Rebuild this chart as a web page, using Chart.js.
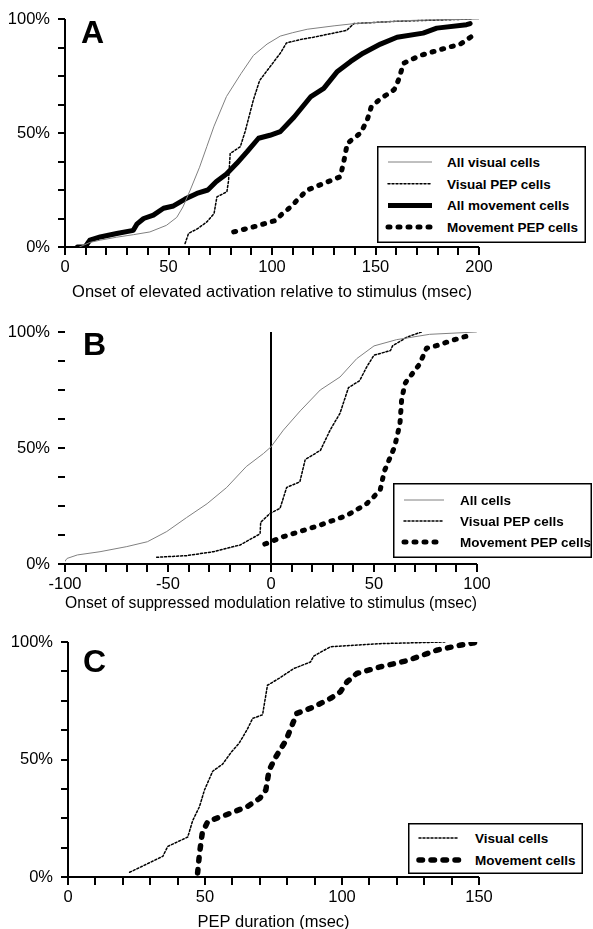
<!DOCTYPE html>
<html><head><meta charset="utf-8">
<script src="https://cdn.jsdelivr.net/npm/chart.js@4.4.1/dist/chart.umd.min.js"></script>
<style>
html,body{margin:0;padding:0;overflow:hidden;background:#fff;width:593px;height:929px;}
canvas{position:absolute;left:0;}
.letter{position:absolute;font:bold 32px 'Liberation Sans',Arial,sans-serif;line-height:32px;color:#000;}
svg.leg{position:absolute;overflow:visible;}
</style></head><body>
<canvas id="cA" width="593" height="305" style="top:0px"></canvas>
<canvas id="cB" width="593" height="310" style="top:305px"></canvas>
<canvas id="cC" width="593" height="320" style="top:615px"></canvas>
<div class="letter" style="left:81px;top:16px">A</div>
<div class="letter" style="left:83px;top:328px">B</div>
<div class="letter" style="left:83px;top:645px">C</div>
<svg id="lA" class="leg"></svg>
<svg id="lB" class="leg"></svg>
<svg id="lC" class="leg"></svg>
<script>
// ---------- Panel A data ----------
const aTitle = 'Onset of elevated activation relative to stimulus (msec)';
const aLabels = ['All visual cells', 'Visual PEP cells', 'All movement cells', 'Movement PEP cells'];
const aVisX = [7, 12, 17, 25, 33, 41, 49, 54, 57, 60.5, 65, 68.5, 72, 78, 85, 91, 97.6, 104, 110, 117, 130, 140, 168, 200];
const aVisY = [0, 2, 3, 4.3, 5.4, 6.6, 9.5, 13, 17.6, 25, 35, 44, 53, 66, 76, 84, 89, 92.5, 94, 95.5, 97, 98, 99.4, 100];
const aVisPepX = [58, 59.7, 64, 68.5, 72, 73.4, 78.2, 79, 79.8, 84.7, 87, 91, 94, 99, 104, 107, 113.7, 120, 136, 139.6, 160, 197];
const aVisPepY = [1.5, 6, 8, 11, 14.7, 22, 24.2, 29, 41, 44, 50.6, 64.5, 73, 79, 85, 89.5, 91, 92, 95, 98, 99, 100];
const aMovX = [6, 9.7, 12, 17, 25, 33, 34.7, 38, 42.7, 47.6, 52.4, 58, 63.7, 69, 73, 78, 83, 88, 93.5, 99, 104, 110.7, 118.8, 125, 131.6, 138, 144, 152.4, 160.4, 173, 179.6, 194, 195.7];
const aMovY = [0, 0, 3, 4.4, 5.9, 7.3, 10, 12.5, 14, 17, 18, 21, 23.5, 25, 28.6, 32, 36.7, 41.8, 47.7, 49, 50.6, 57, 66, 69.6, 77, 81.4, 85, 89, 92, 93.8, 96, 97.5, 98];
const aMovPepX = [81.5, 91, 102, 104.3, 109, 113.7, 117, 128, 133, 134.8, 136.4, 142.8, 146, 148, 152.4, 159, 161, 163.6, 171.6, 181, 191, 197];
const aMovPepY = [6.6, 8.8, 11.7, 14, 17.6, 22, 25, 29, 30.8, 38, 45.5, 50, 55.7, 61.6, 65, 69, 73, 80.6, 84, 86.5, 89, 92.7];

// ---------- Panel B data ----------
const bTitle = 'Onset of suppressed modulation relative to stimulus (msec)';
const bLabels = ['All cells', 'Visual PEP cells', 'Movement PEP cells'];
const bAllX = [-100, -99, -94, -83, -70, -60, -50.6, -41, -31, -21.5, -12, -3.7, 0, 6, 14.2, 23.9, 33.5, 41.6, 50, 61, 77, 99.7];
const bAllY = [1.2, 2.4, 3.9, 5.3, 7.5, 9.6, 14, 20, 26, 33, 42, 47.6, 50.5, 57.7, 66, 75, 80.6, 88.5, 94, 96.7, 99, 100];
const bVisPepX = [-55.5, -41, -28, -15, -5.3, -5, -0.5, 4.4, 7.6, 14, 16.6, 24, 28.7, 33.5, 37.6, 43, 46.5, 50, 58, 59, 66, 73];
const bVisPepY = [2.9, 3.6, 5.3, 8.2, 13, 18, 21.8, 24, 33, 35.4, 45, 49, 57.7, 65, 76, 79, 85, 90, 92, 94, 97.8, 100];
const bMovPepX = [-3, 6, 14, 24, 37, 46.5, 53, 55, 60, 62.6, 63.4, 65, 72, 75.5, 80, 88, 98];
const bMovPepY = [8.6, 11.8, 14, 16.8, 21, 26, 31.8, 40, 50.5, 60.5, 70.6, 77.8, 86, 93, 94, 96.4, 99];

// ---------- Panel C data ----------
const cTitle = 'PEP duration (msec)';
const cLabels = ['Visual cells', 'Movement cells'];
const cVisX = [22.5, 34.6, 36.4, 43.7, 45.5, 48, 49.8, 52.8, 56.4, 59.5, 62.5, 65.5, 67.4, 71, 72.8, 77, 82.4, 88.5, 89.7, 95.8, 114, 137.5];
const cVisY = [2, 8.8, 13, 17, 24, 30, 37, 45, 48, 53, 57, 63, 67.5, 69, 81.6, 84.5, 88.7, 91.5, 94, 98, 99.3, 100];
const cMovX = [47.3, 48, 49, 51, 57.6, 65.5, 70, 72.2, 73.4, 75.8, 79.5, 83.5, 89.7, 95.8, 99.4, 101.8, 105.4, 113.9, 123.6, 134.5, 143, 150];
const cMovY = [1.7, 10, 18.7, 23.6, 26.4, 30, 33.5, 37, 45.5, 51, 58, 69.6, 72.4, 76, 78.8, 83, 86.6, 89.4, 92, 96.5, 98.6, 100];

// ---------- styles ----------
const FONT = "'Liberation Sans', Arial, Helvetica, sans-serif";
const FS = 16.5;
const sThin = {color: '#808080', width: 1, dash: []};
const sDot = {color: '#000', width: 1.5, dash: [2, 2]};
const sThick = {color: '#000', width: 5, dash: []};
const sBigDash = {color: '#000', width: 5, dash: [2, 8]};
const sBigDashC = {color: '#000', width: 5.5, dash: [3.5, 8.5]};
const CLEAR = 'rgba(0,0,0,0)';

function pts(xs, ys) { return xs.map((x, i) => ({x: x, y: ys[i]})); }
function ds(xs, ys, st, label) {
  return {label: label, data: pts(xs, ys), borderColor: st.color, borderWidth: st.width,
    borderDash: st.dash, borderCapStyle: 'round', borderJoinStyle: 'round',
    pointRadius: 0, fill: false, tension: 0};
}

function makePanel(id, p) {
  new Chart(document.getElementById(id), {
    type: 'line',
    data: {datasets: p.datasets},
    options: {
      responsive: false, animation: false, devicePixelRatio: 1,
      layout: {padding: {top: p.padTop, left: 0, right: 593 - p.right, bottom: 0}},
      plugins: {legend: {display: false}, tooltip: {enabled: false}},
      scales: {
        x: {
          type: 'linear', min: p.xmin, max: p.xmax,
          ticks: {stepSize: 10, autoSkip: false, maxRotation: 0, padding: 3, color: '#000',
            font: {family: FONT, size: FS},
            callback: v => (Math.abs(v % 50) < 1e-9 ? String(v) : '')},
          grid: {drawOnChartArea: true, drawTicks: true, tickLength: 8, tickColor: '#000',
            tickWidth: 2,
            color: c => {
              if (!c.tick) return CLEAR;
              if (p.yBorder && c.tick.value === p.xmin) return '#000';
              if (p.zeroLine && c.tick.value === 0) return '#000';
              return CLEAR;
            },
            lineWidth: 2},
          border: {display: false},
          title: {display: true, text: p.title, color: '#000', font: {family: FONT, size: FS},
            padding: {top: 0, bottom: p.titlePad}},
          afterFit: s => { s.height = p.xH; }
        },
        y: {
          type: 'linear', min: 0, max: 100,
          ticks: {stepSize: 12.5, autoSkip: false, padding: 8, color: '#000',
            font: {family: FONT, size: FS},
            callback: v => (Math.abs(v % 50) < 1e-9 ? v + '%' : '')},
          grid: {drawOnChartArea: true, drawTicks: true, tickLength: 7, tickColor: '#000',
            tickWidth: 2,
            color: c => (c.tick && c.tick.value === 0 ? '#000' : CLEAR),
            lineWidth: 2},
          border: {display: false},
          afterFit: s => { s.width = p.left; }
        }
      }
    }
  });
}

makePanel('cA', {
  padTop: 19, right: 479, left: 65, xmin: 0, xmax: 200, xH: 58, titlePad: 3,
  title: aTitle, yBorder: true, zeroLine: false,
  datasets: [ds(aVisX, aVisY, sThin, aLabels[0]), ds(aVisPepX, aVisPepY, sDot, aLabels[1]),
             ds(aMovX, aMovY, sThick, aLabels[2]), ds(aMovPepX, aMovPepY, sBigDash, aLabels[3])]
});
makePanel('cB', {
  padTop: 27, right: 477, left: 65, xmin: -100, xmax: 100, xH: 51, titlePad: 2,
  title: bTitle, yBorder: false, zeroLine: true,
  datasets: [ds(bAllX, bAllY, sThin, bLabels[0]), ds(bVisPepX, bVisPepY, sDot, bLabels[1]),
             ds(bMovPepX, bMovPepY, sBigDash, bLabels[2])]
});
makePanel('cC', {
  padTop: 27, right: 479, left: 68, xmin: 0, xmax: 150, xH: 58, titlePad: 3,
  title: cTitle, yBorder: true, zeroLine: false,
  datasets: [ds(cVisX, cVisY, sDot, cLabels[0]), ds(cMovX, cMovY, sBigDashC, cLabels[1])]
});

// ---------- legends (SVG, real text) ----------
const NS = 'http://www.w3.org/2000/svg';
function el(tag, attrs, parent) {
  const e = document.createElementNS(NS, tag);
  for (const k in attrs) e.setAttribute(k, attrs[k]);
  parent.appendChild(e); return e;
}
function makeLegend(id, box, labels, styles) {
  const svg = document.getElementById(id);
  svg.style.left = box.left + 'px'; svg.style.top = box.top + 'px';
  svg.setAttribute('width', box.w); svg.setAttribute('height', box.h);
  el('rect', {x: 0.75, y: 0.75, width: box.w - 1.5, height: box.h - 1.5, fill: '#fff', stroke: '#000', 'stroke-width': 1.5}, svg);
  labels.forEach((lab, i) => {
    const y = box.row0 + i * box.rowGap;
    const st = styles[i];
    const ln = el('line', {x1: box.s1, x2: box.s2, y1: y, y2: y, stroke: st.color, 'stroke-width': st.width, 'stroke-linecap': st.dash.length ? 'round' : 'butt'}, svg);
    if (st.dash.length) ln.setAttribute('stroke-dasharray', st.dash.join(' '));
    const t = el('text', {x: box.tx, y: y + 4.8, 'font-family': FONT, 'font-weight': 'bold', 'font-size': 13.5, fill: '#000'}, svg);
    t.textContent = lab;
  });
}
makeLegend('lA', {left: 377, top: 146, w: 209, h: 97, row0: 16, rowGap: 21.7, s1: 11, s2: 55, tx: 70},
  aLabels, [sThin, sDot, sThick, sBigDash]);
makeLegend('lB', {left: 393, top: 483, w: 199, h: 75, row0: 17, rowGap: 21, s1: 11, s2: 51, tx: 67},
  bLabels, [sThin, sDot, sBigDash]);
makeLegend('lC', {left: 408, top: 823, w: 175, h: 51, row0: 15, rowGap: 22, s1: 11, s2: 51, tx: 67},
  cLabels, [sDot, sBigDashC]);
</script>
</body></html>
